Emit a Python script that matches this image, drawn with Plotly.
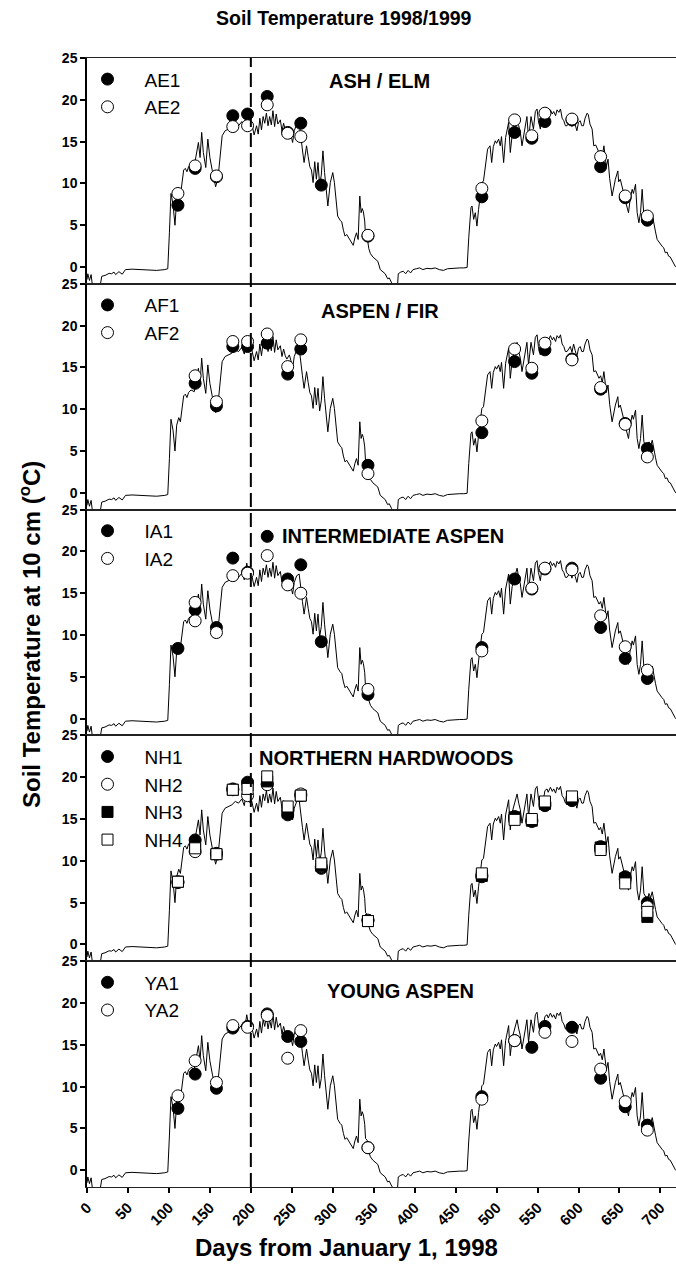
import plotly.graph_objects as go
from plotly.subplots import make_subplots

# ---- continuous soil temperature trace (days from Jan 1 1998, deg C) ----
line_days = [0, 1, 3, 5, 7, 12, 16, 18, 22, 27, 30, 33, 35, 39, 43, 47, 55, 65, 75, 85, 95, 98.6,
             100.6, 102.5, 105, 107.4, 109.5, 112, 114, 116, 118, 120, 122, 124, 127, 131, 134, 136,
             138, 140, 142, 145, 147.5, 150, 153, 155.5, 157, 160, 162.5, 165, 168.6, 172.7, 176.8,
             181, 185, 189, 192, 195, 198, 201, 204, 207, 209, 211, 213, 215, 217, 219, 221, 223,
             225, 227, 229, 231, 233, 236, 238, 240, 242, 244, 247, 249, 251, 253, 256, 259, 261,
             263, 265, 268, 270, 272, 274, 276, 278, 280, 282, 284, 286, 288, 290, 292, 294, 297,
             300, 302, 304, 306, 309, 311, 313, 315, 317, 320, 323, 325, 327, 329, 331, 333, 334.6,
             336, 337.4, 339, 340, 342, 344, 346, 349, 352, 355, 358, 361, 364, 367, 369, 372, 375,
             377, 379, 380, 383, 386, 389, 392, 395, 398, 402, 406, 410, 415, 420, 425, 430, 435,
             440, 445, 450, 455, 460, 464, 466, 468.7, 470, 472, 474, 476, 478, 480, 482, 484, 486,
             489, 492, 494, 496, 498.4, 500, 502.5, 504.5, 506, 508.6, 511, 514.7, 516.7, 519, 521,
             523, 525, 527, 529, 531, 534, 537, 539, 542, 545, 547.3, 549.4, 551, 553.4, 555, 557.5,
             559, 561.6, 563, 565.7, 568, 569.7, 572, 573.8, 576, 578, 580, 582, 584, 586, 588, 590,
             592, 594, 596, 598, 600, 602, 604, 606, 608, 610.5, 612, 614, 616.6, 618.6, 621, 623,
             625, 627, 629, 631, 633, 634, 636, 638, 641, 643, 645, 648, 649, 651, 653, 655, 657,
             659, 661, 663, 665.5, 667, 669.6, 671.6, 673.7, 675.7, 677.7, 679.8, 682, 684, 686,
             688, 690, 692, 694, 696, 698, 700, 702, 704, 706, 708, 710, 712, 714, 716, 718, 720]
line_temp = [-1.5, -0.8, -1.6, -0.9, -2.5, -2.5, -2.3, -1.1, -1.0, -0.75, -0.8, -0.6, -0.9, -0.55,
             -0.85, -0.3, -0.25, -0.3, -0.35, -0.4, -0.3, -0.2,
             4.1, 8.8, 7.5, 5.0, 8.1, 9.0, 8.5, 10.2, 11.6, 11.8, 11.4, 12.0, 12.3, 12.1, 13.7, 14.9,
             13.1, 16.1, 13.7, 11.9, 15.3, 13.1, 11.5, 10.3, 9.6, 10.7, 13.5, 15.7, 16.3, 16.5, 16.7,
             17.1, 16.9, 17.4, 16.6, 18.6, 17.0, 17.2, 15.8, 16.9, 15.9, 17.8, 16.4, 18.0, 17.2, 18.4,
             16.9, 18.0, 17.0, 18.7, 16.8, 18.3, 17.1, 17.6, 16.3, 17.2, 16.4, 16.0, 16.5, 15.8, 14.9,
             16.3, 17.1, 17.3, 15.3, 14.0, 12.5, 14.5, 13.2, 12.0, 11.6, 10.1, 12.6, 10.5, 12.5, 9.8,
             11.0, 13.9, 11.3, 9.0, 7.3, 10.1, 11.3, 10.1, 8.1, 6.1, 5.6, 5.4, 4.4, 3.7, 3.9, 3.4,
             3.0, 2.6, 3.5, 4.1, 3.3, 8.5, 6.5, 7.0, 6.6, 5.5, 3.8, 3.6, 2.2, 1.6, 1.2, 0.9, 0.7,
             -0.3, -0.5, -0.8, -1.4, -1.3, -1.9, -2.3, -2.4, -2.3, -0.8, -0.6, -0.5, -0.8, -0.4, -0.7,
             -0.3, -0.2, -0.1, -0.3, -0.15, -0.2, -0.1, -0.3, -0.4, -0.2, -0.15, -0.1, -0.1, -0.1,
             -0.05, 3.5, 7.1, 7.3, 5.7, 6.5, 4.9, 6.9, 8.5, 10.1, 10.3, 11.7, 14.1, 14.5, 12.5, 14.4,
             15.1, 14.8, 15.3, 14.5, 15.6, 12.5, 15.5, 17.3, 13.7, 15.8, 16.5, 17.3, 18.0, 16.9, 16.1,
             14.5, 16.5, 18.0, 15.3, 18.0, 16.5, 18.6, 18.9, 17.5, 16.5, 17.7, 17.5, 18.4, 18.6, 18.2,
             18.8, 18.3, 18.6, 18.1, 18.8, 18.5, 18.9, 17.8, 17.5, 16.9, 16.9, 17.3, 17.5, 16.8, 17.8,
             17.0, 16.3, 17.3, 17.5, 16.9, 16.9, 17.8, 18.4, 18.2, 17.1, 16.5, 14.5, 14.6, 14.1, 13.7,
             14.0, 13.2, 14.5, 12.3, 12.0, 12.9, 10.6, 8.5, 9.8, 10.5, 11.5, 10.2, 10.5, 9.8, 8.9,
             8.0, 7.3, 6.5, 8.1, 9.3, 8.8, 9.9, 6.5, 5.3, 6.5, 9.3, 6.1, 5.6, 5.3, 6.1, 5.6, 6.3, 5.1,
             4.2, 3.3, 3.0, 2.7, 2.5, 2.3, 1.7, 1.8, 1.3, 1.2, 0.8, 0.3, 0.1, -0.1]

# ---- sampling dates ----
sample_days = [111, 132, 158, 178, 196, 220, 245, 261, 286, 343,
               482, 522, 543, 559, 592, 627, 657, 684]

AE1 = [7.4, 11.8, 10.8, 18.1, 18.3, 20.4, 16.1, 17.2, 9.8, 3.7,
       8.4, 16.1, 15.4, 17.4, 17.6, 12.0, 8.3, 5.6]
AE2 = [8.8, 12.1, 10.9, 16.8, 16.9, 19.4, 16.0, 15.6, None, 3.8,
       9.4, 17.6, 15.7, 18.4, 17.7, 13.2, 8.5, 6.1]

AF1 = [None, 13.1, 10.4, 17.5, 17.5, 17.9, 14.2, 17.2, None, 3.3,
       7.2, 15.7, 14.3, 17.1, 16.0, 12.4, 8.3, 5.3]
AF2 = [None, 14.0, 10.9, 18.1, 18.1, 19.0, 15.1, 18.3, None, 2.3,
       8.6, 17.2, 14.9, 17.9, 15.9, 12.6, 8.2, 4.3]

IA1 = [8.4, 13.0, 10.9, 19.2, 17.5, 21.8, 16.7, 18.4, 9.2, 2.9,
       8.5, 16.7, 15.5, 17.9, 18.0, 10.9, 7.2, 4.8]
IA2 = [None, 13.9, 10.3, 17.1, 17.4, 19.5, 16.0, 15.0, None, 3.5,
       8.1, None, 15.6, 18.0, 17.8, 12.3, 8.6, 5.8]
IA2_extra_day = [132]
IA2_extra_val = [11.7]

NH1 = [7.4, 12.5, 10.9, 18.6, 19.4, 19.2, 15.5, 17.8, 9.1, 2.9,
       8.1, 15.3, 14.7, 16.6, 17.2, 11.7, 8.1, 5.0]
NH2 = [7.5, 11.1, 10.8, 18.5, 17.8, 19.1, 16.0, 18.0, 9.3, 2.9,
       8.3, 15.0, 14.9, 16.9, 17.5, 11.4, 7.8, 4.5]
NH3 = [7.5, 12.0, 10.8, 18.5, 19.0, 19.5, 15.8, 17.8, 9.4, 2.8,
       8.2, 15.2, 14.8, 16.8, 17.4, 11.6, 7.9, 3.3]
NH4 = [7.5, 11.5, 10.8, 18.5, 18.6, 20.1, 16.5, 17.8, 9.7, 2.8,
       8.5, 14.9, 15.0, 17.1, 17.7, 11.3, 7.3, 3.9]

YA1 = [7.4, 11.5, 9.8, 17.0, 17.2, 18.7, 16.0, 15.4, None, 2.7,
       8.8, 15.5, 14.7, 17.2, 17.1, 11.0, 7.6, 5.4]
YA2 = [8.9, 13.1, 10.5, 17.3, 17.1, 18.5, 13.4, 16.7, None, 2.7,
       8.5, 15.5, None, 16.5, 15.4, 12.1, 8.2, 4.8]

panel_titles = ["ASH / ELM", "ASPEN / FIR", "INTERMEDIATE ASPEN", "NORTHERN HARDWOODS", "YOUNG ASPEN"]
title_x = [293, 283, 235, 208, 291]
title_y = [22.2, 21.8, 21.9, 22.3, 21.4]

x_ticks = list(range(0, 701, 50))
y_ticks = [0, 5, 10, 15, 20, 25]

FONT = "Liberation Sans, Arial, Helvetica, sans-serif"

fig = make_subplots(rows=5, cols=1, shared_xaxes=False, vertical_spacing=0)

filled_c = dict(symbol="circle", size=12, color="black", line=dict(color="black", width=1))
open_c = dict(symbol="circle", size=12, color="white", line=dict(color="black", width=1))
filled_s = dict(symbol="square", size=11, color="black", line=dict(color="black", width=1))
open_s = dict(symbol="square", size=11, color="white", line=dict(color="black", width=1))

panels = [
    [("AE1", AE1, filled_c), ("AE2", AE2, open_c)],
    [("AF1", AF1, filled_c), ("AF2", AF2, open_c)],
    [("IA1", IA1, filled_c), ("IA2", IA2, open_c)],
    [("NH1", NH1, filled_c), ("NH2", NH2, open_c), ("NH3", NH3, filled_s), ("NH4", NH4, open_s)],
    [("YA1", YA1, filled_c), ("YA2", YA2, open_c)],
]

for i, series in enumerate(panels):
    row = i + 1
    leg = "legend" if i == 0 else f"legend{i+1}"
    fig.add_trace(go.Scatter(x=line_days, y=line_temp, mode="lines",
                             line=dict(color="black", width=1), showlegend=False,
                             hoverinfo="skip"), row=row, col=1)
    for name, vals, mk in series:
        fig.add_trace(go.Scatter(x=sample_days, y=vals, mode="markers", marker=mk,
                                 name=name, legend=leg, cliponaxis=False), row=row, col=1)
        if name == "IA2":
            fig.add_trace(go.Scatter(x=IA2_extra_day, y=IA2_extra_val, mode="markers",
                                     marker=mk, showlegend=False), row=row, col=1)

for i in range(5):
    row = i + 1
    top = 1 - i / 5
    bot = 1 - (i + 1) / 5
    fig.update_yaxes(range=[-2, 25], domain=[bot, top], tickvals=y_ticks,
                     ticks="outside", ticklen=5, tickwidth=1.5, tickcolor="black",
                     showline=True, linecolor="black", linewidth=1.5, mirror=False,
                     showgrid=False, zeroline=False,
                     tickfont=dict(family=FONT, size=14, color="black", weight="bold"),
                     row=row, col=1)
    last = (row == 5)
    fig.update_xaxes(range=[0, 719], showgrid=False, zeroline=False,
                     showline=True, linecolor="#222222", linewidth=1.2, mirror=True,
                     tickvals=x_ticks, ticks="outside" if last else "",
                     ticklen=5, tickwidth=1.5, tickcolor="black",
                     showticklabels=last, tickangle=-45,
                     tickfont=dict(family=FONT, size=15, color="black", weight="bold"),
                     row=row, col=1)

fig.add_shape(type="line", xref="x", yref="paper", x0=200, x1=200, y0=0, y1=1,
              line=dict(color="black", width=2, dash="14px,6px"))

for i, t in enumerate(panel_titles):
    xr = "x" if i == 0 else f"x{i+1}"
    yr = "y" if i == 0 else f"y{i+1}"
    fig.add_annotation(text=f"<b>{t}</b>", x=title_x[i], y=title_y[i], xref=xr, yref=yr,
                       xanchor="left", yanchor="middle", showarrow=False,
                       font=dict(family=FONT, size=20, color="black"))

legend_common = dict(bgcolor="rgba(0,0,0,0)", borderwidth=0, itemwidth=64,
                     font=dict(family=FONT, size=19, color="black"),
                     xanchor="left", yanchor="top", x=-0.028, tracegroupgap=0)
for i in range(5):
    top = 1 - i / 5
    key = "legend" if i == 0 else f"legend{i+1}"
    fig.update_layout(**{key: dict(legend_common, y=top - 0.002)})

fig.add_annotation(text="<b>Soil Temperature 1998/1999</b>", xref="paper", yref="paper",
                   x=(344 - 87) / 589, y=(1187 - 18) / 1129, xanchor="center", yanchor="middle",
                   showarrow=False, font=dict(family=FONT, size=19.5, color="black"))
fig.add_annotation(text="<b>Soil Temperature at 10 cm (<sup>o</sup>C)</b>", xref="paper", yref="paper",
                   x=(30 - 87) / 589, y=(1187 - 635) / 1129, xanchor="center", yanchor="middle",
                   textangle=-90, showarrow=False, font=dict(family=FONT, size=24, color="black"))
fig.add_annotation(text="<b>Days from January 1, 1998</b>", xref="paper", yref="paper",
                   x=(346 - 87) / 589, y=(1187 - 1247) / 1129, xanchor="center", yanchor="middle",
                   showarrow=False, font=dict(family=FONT, size=24, color="black"))

fig.update_layout(width=676, height=1265, margin=dict(l=87, r=0, t=58, b=78),
                  plot_bgcolor="white", paper_bgcolor="white", showlegend=True,
                  font=dict(family=FONT, color="black"))

fig.write_html("out.html")
